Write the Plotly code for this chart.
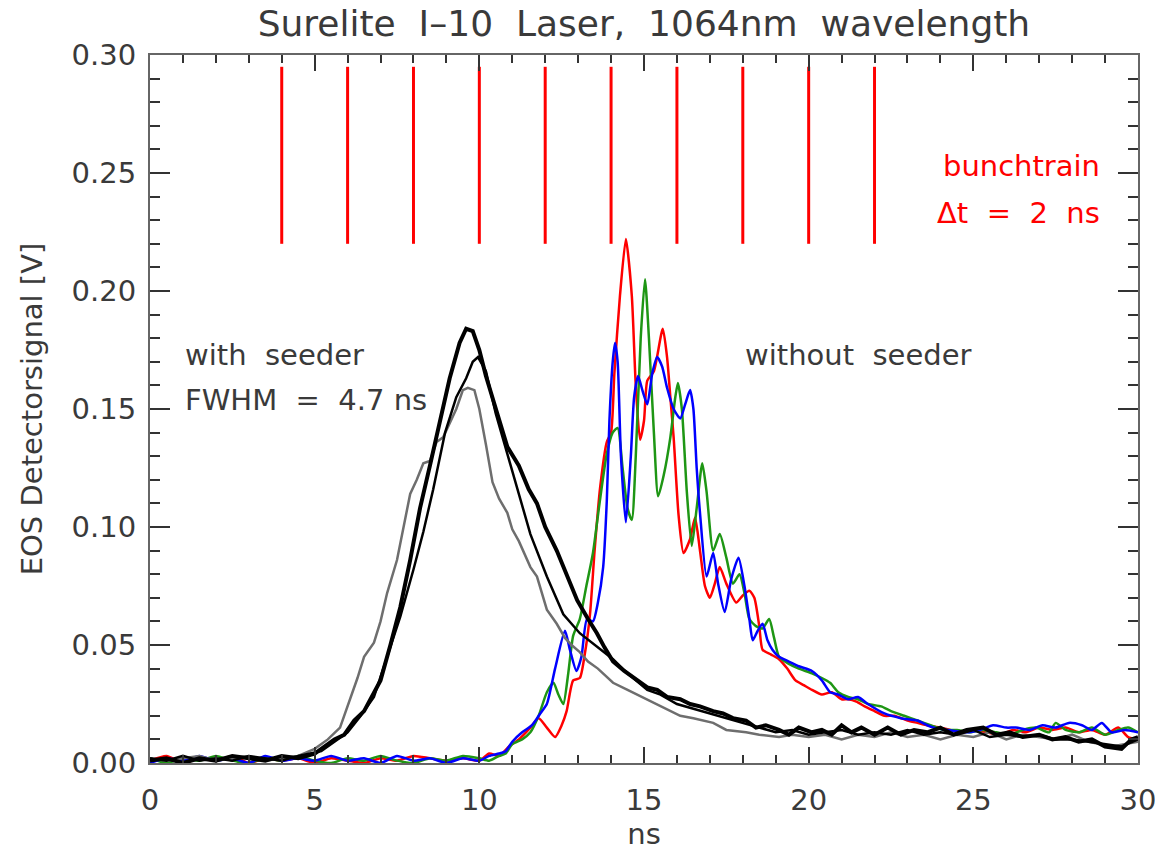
import plotly.graph_objects as go

# ---------------- data ----------------
bunch_times = [4, 6, 8, 10, 12, 14, 16, 18, 20, 22]
bunch_low, bunch_high = 0.22, 0.295

base_x = [0.0, 0.5, 1.0, 1.5, 2.0, 2.5, 3.0, 3.5, 4.0, 4.5, 5.0, 5.5, 6.0, 6.5, 7.0, 7.5, 8.0, 8.5, 9.0, 9.5, 10.0, 10.3]

thick_x = [0.0, 0.5, 1.0, 1.5, 2.0, 2.5, 3.0, 3.5, 4.0, 4.5, 5.0, 5.3, 5.6, 5.9, 6.2, 6.5, 6.8, 7.0,
           7.3, 7.6, 7.9, 8.2, 8.5, 8.8, 9.1, 9.4, 9.6, 9.8, 10.0, 10.2, 10.5, 10.85, 11.2, 11.5, 11.75,
           12.0, 12.35, 12.7, 12.97, 13.3, 13.57, 13.8, 14.06, 14.4, 14.7, 15.1, 15.4, 15.7, 16.1, 16.4,
           16.7, 17.1, 17.4, 17.7, 18.1, 18.4, 18.7, 19.1, 19.4, 19.7, 20.1, 20.4, 20.7, 21.0, 21.3, 21.6,
           22.0, 22.4, 22.8, 23.2, 23.6, 24.0, 24.4, 24.8, 25.3, 25.7, 26.1, 26.5, 27.0, 27.4, 27.8, 28.2,
           28.6, 29.0, 29.5, 29.8, 30.0]
thick_y = [0.001, 0.002, 0.000, 0.002, 0.001, 0.003, 0.002, 0.001, 0.003, 0.002, 0.004, 0.007, 0.010, 0.012,
           0.018, 0.022, 0.030, 0.035, 0.050, 0.066, 0.086, 0.108, 0.126, 0.145, 0.163, 0.178, 0.184, 0.183,
           0.175, 0.164, 0.150, 0.134, 0.126, 0.116, 0.110, 0.100, 0.090, 0.078, 0.069, 0.061, 0.055, 0.049,
           0.043, 0.039, 0.036, 0.032, 0.031, 0.028, 0.027, 0.025, 0.024, 0.022, 0.021, 0.019, 0.018, 0.015,
           0.016, 0.014, 0.012, 0.015, 0.013, 0.014, 0.012, 0.016, 0.013, 0.015, 0.012, 0.015, 0.012, 0.014,
           0.013, 0.015, 0.012, 0.014, 0.015, 0.012, 0.013, 0.011, 0.012, 0.010, 0.011, 0.009, 0.010, 0.007,
           0.006, 0.010, 0.011]

thin_x = [0.0, 0.5, 1.0, 1.5, 2.0, 2.5, 3.0, 3.5, 4.0, 4.5, 5.2, 5.6, 6.0, 6.4, 6.8, 7.2, 7.6, 8.0, 8.3,
          8.6, 8.96, 9.3, 9.6, 9.8, 9.96, 10.2, 10.5, 10.85, 11.2, 11.55, 12.05, 12.55, 13.05, 13.5, 14.06,
          14.5, 15.1, 15.5, 16.0, 16.5, 17.0, 17.5, 18.0, 18.5, 19.0, 19.5, 20.0, 20.5, 21.0, 21.5, 22.0,
          22.5, 23.0, 23.5, 24.0, 24.5, 25.0, 25.5, 26.0, 26.5, 27.0, 27.5, 28.0, 28.5, 29.0, 29.5, 30.0]
thin_y = [0.002, 0.001, 0.003, 0.001, 0.002, 0.001, 0.003, 0.002, 0.001, 0.003, 0.005, 0.009, 0.013, 0.020,
          0.028, 0.045, 0.062, 0.082, 0.098, 0.116, 0.140, 0.155, 0.163, 0.170, 0.172, 0.166, 0.148, 0.131,
          0.114, 0.097, 0.079, 0.063, 0.055, 0.050, 0.044, 0.038, 0.031, 0.029, 0.025, 0.023, 0.021, 0.019,
          0.017, 0.015, 0.013, 0.014, 0.012, 0.013, 0.014, 0.012, 0.013, 0.012, 0.014, 0.012, 0.013, 0.012,
          0.014, 0.011, 0.012, 0.011, 0.012, 0.010, 0.010, 0.009, 0.008, 0.007, 0.010]

gray_x = [0.0, 0.5, 1.0, 1.5, 2.0, 2.5, 3.0, 3.5, 4.0, 4.5, 5.0, 5.4, 5.77, 6.0, 6.3, 6.5, 6.8, 7.0, 7.2,
          7.5, 7.9, 8.1, 8.3, 8.5, 8.7, 8.9, 9.1, 9.3, 9.5, 9.65, 9.85, 10.0, 10.2, 10.4, 10.6, 10.85, 11.0,
          11.2, 11.55, 11.75, 12.05, 12.35, 12.6, 12.8, 13.05, 13.3, 13.6, 14.06, 14.5, 15.1, 15.5, 16.1,
          16.5, 17.1, 17.5, 18.1, 18.5, 19.1, 19.5, 20.0, 20.5, 21.0, 21.5, 22.0, 22.5, 23.0, 23.5, 24.0,
          24.5, 25.0, 25.5, 26.0, 26.5, 27.0, 27.5, 28.0, 28.5, 29.2, 29.6, 30.0]
gray_y = [0.002, 0.001, 0.002, 0.003, 0.001, 0.002, 0.003, 0.001, 0.002, 0.003, 0.006, 0.010, 0.015, 0.024,
          0.036, 0.045, 0.051, 0.060, 0.072, 0.086, 0.114, 0.120, 0.127, 0.128, 0.136, 0.138, 0.144, 0.150,
          0.158, 0.159, 0.158, 0.150, 0.135, 0.119, 0.112, 0.106, 0.099, 0.094, 0.083, 0.079, 0.065, 0.059,
          0.053, 0.050, 0.047, 0.043, 0.040, 0.034, 0.031, 0.027, 0.024, 0.020, 0.019, 0.017, 0.014, 0.013,
          0.012, 0.011, 0.012, 0.011, 0.012, 0.010, 0.012, 0.011, 0.013, 0.011, 0.012, 0.010, 0.012, 0.011,
          0.013, 0.010, 0.012, 0.011, 0.010, 0.012, 0.009, 0.007, 0.008, 0.009]

red_x = base_x + [10.6, 10.9, 11.2, 11.55, 11.8, 12.05, 12.3, 12.5, 12.65, 12.85, 13.05, 13.2, 13.36, 13.5,
                  13.67, 13.87, 14.0, 14.1, 14.27, 14.45, 14.63, 14.75, 14.88, 15.0, 15.1, 15.3, 15.57, 15.7,
                  15.8, 15.9, 16.05, 16.2, 16.4, 16.55, 16.7, 16.85, 17.0, 17.15, 17.3, 17.5, 17.8, 18.0, 18.2,
                  18.35, 18.5, 18.6, 18.85, 19.1, 19.35, 19.6, 19.85, 20.1, 20.4, 20.7, 21.0, 21.2, 21.45, 21.7,
                  22.0, 22.3, 22.6, 23.0, 23.3, 23.6, 24.0, 24.3, 24.7, 25.0, 25.4, 25.8, 26.2, 26.6, 27.0,
                  27.4, 27.8, 28.2, 28.6, 29.0, 29.4, 29.7, 30.0]
red_y = [0.001, 0.003, 0.000, 0.002, 0.001, 0.003, 0.000, 0.002, 0.001, 0.002, 0.000, 0.002, 0.001, 0.000,
         0.002, 0.001, 0.003, 0.002, 0.001, 0.002, 0.001, 0.004,
         0.003, 0.007, 0.010, 0.015, 0.019, 0.015, 0.011, 0.016, 0.022, 0.035, 0.036, 0.046, 0.063, 0.090,
         0.117, 0.136, 0.140, 0.165, 0.198, 0.222, 0.198, 0.160, 0.137, 0.145, 0.162, 0.166, 0.184, 0.172,
         0.155, 0.138, 0.105, 0.089, 0.095, 0.104, 0.090, 0.075, 0.070, 0.076, 0.083, 0.076, 0.068, 0.071,
         0.073, 0.070, 0.058, 0.048, 0.046, 0.044, 0.040, 0.035, 0.033, 0.031, 0.029, 0.030, 0.027, 0.027,
         0.026, 0.024, 0.022, 0.020, 0.020, 0.018, 0.017, 0.016, 0.015, 0.014, 0.013, 0.014, 0.013, 0.012,
         0.014, 0.013, 0.015, 0.014, 0.015, 0.013, 0.014, 0.012, 0.015, 0.011, 0.010]

green_x = base_x + [10.6, 10.8, 11.0, 11.3, 11.55, 11.8, 12.05, 12.25, 12.4, 12.55, 12.7, 12.85, 13.05, 13.25,
                    13.45, 13.65, 13.87, 14.05, 14.2, 14.35, 14.5, 14.63, 14.75, 14.9, 15.03, 15.15, 15.3,
                    15.43, 15.6, 15.8, 15.95, 16.03, 16.15, 16.3, 16.45, 16.6, 16.77, 16.9, 17.1, 17.3, 17.5,
                    17.7, 17.9, 18.05, 18.2, 18.4, 18.6, 18.8, 18.95, 19.1, 19.4, 19.7, 20.1, 20.4, 20.65,
                    20.9, 21.2, 21.5, 21.8, 22.2, 22.5, 22.9, 23.3, 23.7, 24.1, 24.5, 24.9, 25.3, 25.7, 26.1,
                    26.5, 26.9, 27.3, 27.5, 27.8, 28.2, 28.6, 29.0, 29.4, 29.7, 30.0]
green_y = [0.002, 0.000, 0.002, 0.001, 0.003, 0.001, 0.000, 0.002, 0.001, 0.003, 0.001, 0.000, 0.002, 0.001,
           0.003, 0.001, 0.000, 0.002, 0.001, 0.003, 0.002, 0.001,
           0.003, 0.004, 0.008, 0.010, 0.013, 0.020, 0.030, 0.034, 0.029, 0.025, 0.038, 0.054, 0.061, 0.075,
           0.089, 0.110, 0.131, 0.140, 0.142, 0.125, 0.108, 0.103, 0.130, 0.180, 0.205, 0.180, 0.140, 0.113,
           0.122, 0.138, 0.155, 0.161, 0.150, 0.115, 0.092, 0.108, 0.127, 0.115, 0.090, 0.097, 0.087, 0.076,
           0.080, 0.072, 0.061, 0.058, 0.057, 0.061, 0.053, 0.045, 0.042, 0.040, 0.038, 0.036, 0.034, 0.030,
           0.028, 0.027, 0.025, 0.024, 0.022, 0.020, 0.018, 0.016, 0.014, 0.014, 0.013, 0.014, 0.013, 0.012,
           0.014, 0.015, 0.013, 0.017, 0.014, 0.013, 0.015, 0.012, 0.014, 0.015, 0.013]

blue_x = base_x + [10.6, 10.8, 11.0, 11.3, 11.6, 11.85, 12.05, 12.3, 12.6, 12.75, 12.95, 13.1, 13.27, 13.45,
                   13.6, 13.76, 13.87, 13.95, 14.05, 14.12, 14.2, 14.3, 14.45, 14.6, 14.7, 14.82, 14.95, 15.1,
                   15.25, 15.4, 15.55, 15.7, 15.9, 16.1, 16.25, 16.4, 16.5, 16.6, 16.7, 16.9, 17.1, 17.25,
                   17.45, 17.65, 17.87, 18.05, 18.2, 18.3, 18.45, 18.6, 18.75, 18.9, 19.1, 19.4, 19.7, 20.1,
                   20.4, 20.65, 20.9, 21.2, 21.5, 21.8, 22.3, 22.8, 23.3, 23.6, 23.8, 24.2, 24.8, 25.2, 25.6,
                   26.0, 26.3, 26.7, 27.1, 27.5, 27.9, 28.3, 28.6, 28.9, 29.2, 29.6, 30.0]
blue_y = [0.000, 0.002, 0.001, 0.003, 0.001, 0.002, 0.000, 0.003, 0.001, 0.002, 0.001, 0.003, 0.001, 0.002,
          0.000, 0.003, 0.001, 0.002, 0.000, 0.002, 0.001, 0.003,
          0.004, 0.005, 0.009, 0.013, 0.016, 0.021, 0.025, 0.040, 0.056, 0.048, 0.039, 0.045, 0.061, 0.060,
          0.068, 0.083, 0.111, 0.145, 0.170, 0.178, 0.170, 0.130, 0.102, 0.130, 0.155, 0.164, 0.158, 0.152,
          0.165, 0.172, 0.168, 0.159, 0.150, 0.146, 0.152, 0.158, 0.150, 0.125, 0.106, 0.079, 0.089, 0.076,
          0.064, 0.078, 0.087, 0.075, 0.061, 0.052, 0.056, 0.059, 0.052, 0.048, 0.045, 0.043, 0.041, 0.039,
          0.035, 0.030, 0.029, 0.027, 0.028, 0.025, 0.021, 0.019, 0.018, 0.016, 0.015, 0.014, 0.013, 0.014,
          0.016, 0.015, 0.015, 0.014, 0.016, 0.015, 0.017, 0.016, 0.014, 0.017, 0.013, 0.014, 0.013]

# ---------------- figure ----------------
FONT = "DejaVu Sans"
TXT = "#3a3a3a"
SP = "\u00a0"
fig = go.Figure()

for xs, ys, col in [(red_x, red_y, "#ff0000"), (green_x, green_y, "#1e9614"), (blue_x, blue_y, "#0000ff")]:
    fig.add_trace(go.Scatter(x=xs, y=ys, mode="lines", line=dict(color=col, width=2.5, shape="spline", smoothing=0.6),
                             showlegend=False))

fig.add_trace(go.Scatter(x=gray_x, y=gray_y, mode="lines", line=dict(color="#6e6e6e", width=2.5), showlegend=False))
fig.add_trace(go.Scatter(x=thin_x, y=thin_y, mode="lines", line=dict(color="#000000", width=2.5), showlegend=False))
fig.add_trace(go.Scatter(x=thick_x, y=thick_y, mode="lines", line=dict(color="#000000", width=4), showlegend=False))

# bunch train markers
bx, by = [], []
for t in bunch_times:
    bx += [t, t, None]
    by += [bunch_low, bunch_high, None]
fig.add_trace(go.Scatter(x=bx, y=by, mode="lines", line=dict(color="#ff0000", width=3), showlegend=False))

ann_font = dict(family=FONT, size=29, color=TXT)
fig.add_annotation(x=1.0, y=0.173, text="with" + SP * 2 + "seeder", showarrow=False, xanchor="left", yanchor="middle", font=ann_font)
fig.add_annotation(x=1.0, y=0.154, text="FWHM" + SP * 2 + "=" + SP * 2 + "4.7" + SP + "ns", showarrow=False, xanchor="left", yanchor="middle", font=ann_font)
fig.add_annotation(x=18.0, y=0.173, text="without" + SP * 2 + "seeder", showarrow=False, xanchor="left", yanchor="middle", font=ann_font)
red_font = dict(family=FONT, size=29, color="#ff0000")
fig.add_annotation(x=28.9, y=0.253, text="bunchtrain", showarrow=False, xanchor="right", yanchor="middle", font=red_font)
fig.add_annotation(x=28.9, y=0.233, text="Δt" + SP * 2 + "=" + SP * 2 + "2" + SP * 2 + "ns", showarrow=False, xanchor="right", yanchor="middle", font=red_font)

axis_common = dict(showgrid=False, zeroline=False, showline=True, linecolor="#666666", linewidth=2,
                   mirror="ticks", ticks="inside", tickcolor="#333333", tickwidth=1.5, automargin=False,
                   ticklabeloverflow="allow",
                   tickfont=dict(family=FONT, size=29, color=TXT))

fig.update_xaxes(range=[0, 30], tick0=0, dtick=5, ticklen=16, ticklabelstandoff=10,
                 minor=dict(dtick=1, ticklen=8, ticks="inside", tickcolor="#333333", tickwidth=1.5),
                 title=dict(text="ns", font=dict(family=FONT, size=29, color=TXT), standoff=6),
                 **axis_common)
fig.update_yaxes(range=[0, 0.30], tick0=0, dtick=0.05, tickformat=".2f", ticklen=20, ticklabelstandoff=6,
                 minor=dict(dtick=0.01, ticklen=10, ticks="inside", tickcolor="#333333", tickwidth=1.5),
                 title=dict(text="EOS" + SP + "Detectorsignal" + SP + "[V]", font=dict(family=FONT, size=29, color=TXT), standoff=20),
                 **axis_common)

fig.update_layout(
    width=1155, height=851,
    margin=dict(l=150, r=17, t=55, b=88),
    paper_bgcolor="white", plot_bgcolor="white",
    title=dict(text=SP.join(["Surelite", "I–10", "Laser,", "1064nm", "wavelength"]).replace(SP, SP * 2),
               x=0.5575, xanchor="center", y=0.972, yanchor="middle",
               font=dict(family=FONT, size=36, color=TXT)),
)

fig.write_html("out.html")
